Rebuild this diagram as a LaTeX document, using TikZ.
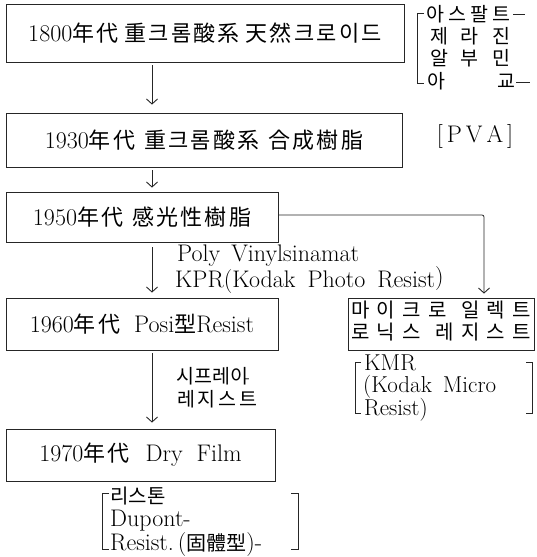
\documentclass[tikz,border=0pt]{standalone}
\usepackage{fontspec}
\usetikzlibrary{arrows.meta}
\newfontfamily\kr{Noto Sans CJK KR}
\newfontfamily\krs[LetterSpace=10]{Noto Sans CJK KR}
\newcommand\K[1]{{\fontsize{22}{24}\selectfont\krs #1}}
\newcommand\bigsz{\fontsize{24}{26}\selectfont}
\newcommand\kmsz{\fontsize{23}{24}\selectfont}
\newcommand\midsz{\fontsize{19.5}{22}\selectfont}
\tikzset{
  box/.style={draw=black!85, line width=0.8pt, inner sep=0pt, font=\bigsz},
  arr/.style={draw=black!85, line width=0.8pt, -{Straight Barb[length=5pt,width=11pt,line width=0.9pt]}},
  lnk/.style={draw=black!85, line width=0.8pt, rounded corners=2pt},
  brk/.style={draw=black!85, line width=0.7pt},
  lab/.style={inner sep=0pt, anchor=west, font=\bigsz},
  klab/.style={inner sep=0pt, anchor=west, font=\midsz\kr},
}
\begin{document}
\begin{tikzpicture}[x=1pt,y=-1pt]
\fill[white] (0,0) rectangle (537,557);
\useasboundingbox (0,0) rectangle (537,557);
\coordinate (ax) at (152,0);
\coordinate (cx) at (484,0);
% main boxes
\node[box, minimum width=398pt, minimum height=58pt] (b1) at (205,33) {1800\K{年代}\hspace{6pt}\K{重크롬酸系}\hspace{6pt}\K{天然크로이드}};
\node[box, minimum width=396pt, minimum height=54pt] (b2) at (204,140) {1930\K{年代}\hspace{9pt}\K{重크롬酸系}\hspace{9pt}\K{合成樹脂}};
\node[box, minimum width=272pt, minimum height=50pt] (b3) at (142,217) {1950\K{年代}\hspace{9pt}\K{感光性樹脂}};
\node[box, minimum width=272pt, minimum height=52pt] (b4) at (142,324) {1960\K{年代}\hspace{14pt}Posi\K{型}Resist};
\node[box, minimum width=186pt, minimum height=52pt] (b5) at (441,324) {};
\node[box, minimum width=269pt, minimum height=52pt] (b6) at (140.5,455) {1970\K{年代}\hspace{16pt}Dry\hspace{14pt}Film};
% box5 text
\node[inner sep=0pt, font=\fontsize{20}{22}\selectfont\kr] (t5a) at (441,310) {\makebox[180pt][s]{마\hfill 이\hfill 크\hfill 로\hfill\hfill 일\hfill 렉\hfill 트}};
\node[inner sep=0pt, font=\fontsize{20}{22}\selectfont\kr] (t5b) at (441,332) {\makebox[180pt][s]{로\hfill 닉\hfill 스\hfill\hfill 레\hfill 지\hfill 스\hfill 트}};
% arrows
\draw[arr, shorten <=3pt, shorten >=8pt] (b1.south -| ax) -- (b2.north -| ax);
\draw[arr, shorten <=3pt, shorten >=4pt] (b2.south -| ax) -- (b3.north -| ax);
\draw[arr, shorten <=5pt, shorten >=5pt] (b3.south -| ax) -- (b4.north -| ax);
\draw[arr, shorten <=3pt, shorten >=6pt] (b4.south -| ax) -- (b6.north -| ax);
\draw[lnk, -{Straight Barb[length=5pt,width=11pt,line width=0.9pt]}, shorten >=4pt] (b3.east |- 0,215) -- (cx |- 0,215) -- (cx |- b5.north);
% side texts
\node[lab] (pv) at (177,256) {Poly\hspace{11pt}Vinylsinamat};
\node[lab] (kpr) at (175,280) {KPR(Kodak\hspace{12pt}Photo\hspace{12pt}Resist\raisebox{3pt}{)}};
\node[lab, anchor=center] (pva) at (475,136) {[\,P\,V\,A\,]};
\node[klab] (sp1) at (176,376) {\makebox[68pt][s]{시\hfill 프\hfill 레\hfill 이}\rmfamily -};
\node[klab] (sp2) at (177,399) {\makebox[80pt][s]{레\hfill 지\hfill 스\hfill 트}};
% group A (top right)
\node[klab] (ga1) at (426,14) {\makebox[84pt][s]{아\hfill 스\hfill 팔\hfill 트}};
\node[klab] (ga2) at (430,36) {제\hspace{12pt}라\hspace{14pt}진};
\node[klab] (ga3) at (430,58) {알\hspace{12pt}부\hspace{14pt}민};
\node[klab] (ga4) at (427,81) {아\hspace{52pt}교};
\draw[brk] (424,13) -- (417,13) -- (417,83) -- (424,83);
\draw[brk] (513,14) -- (525,14);
\draw[brk] (516,82) -- (530,82);
% KMR group
\node[lab, font=\kmsz] (km1) at (364,363) {KMR};
\node[lab, font=\kmsz] (km2) at (363,387) {(Kodak\hspace{11pt}Micro};
\node[lab, font=\kmsz] (km3) at (364,410) {Resist)};
\draw[brk] (361,362) -- (355,362) -- (355,413) -- (361,413);
\draw[brk] (526,362) -- (532,362) -- (532,413) -- (526,413);
% bottom group
\node[klab, font=\fontsize{20}{22}\selectfont\kr] (bg1) at (110,496) {리스톤};
\node[lab] (bg2) at (110,521) {Dupont-};
\node[lab] (bg3) at (110,545) {Resist.\,({\fontsize{20}{22}\selectfont\kr 固體型})-};
\draw[brk] (109,493) -- (102,493) -- (102,549) -- (109,549);
\draw[brk] (291,493) -- (298,493) -- (298,549) -- (291,549);
\end{tikzpicture}
\end{document}
